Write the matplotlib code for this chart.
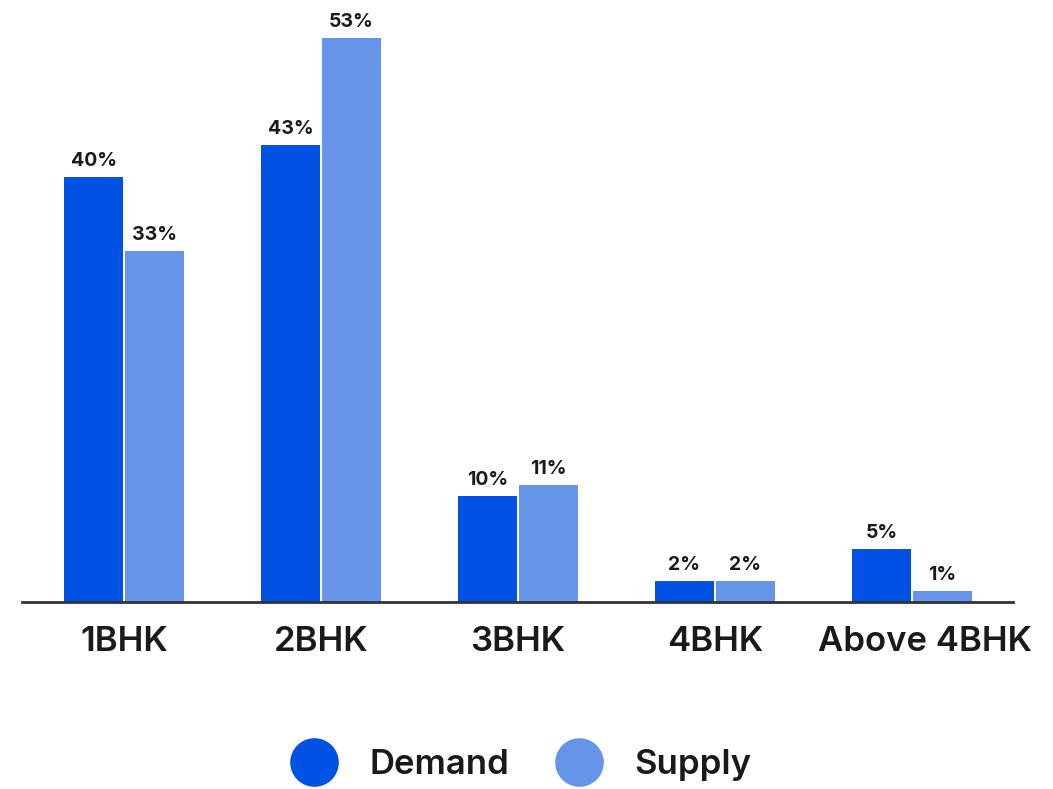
import matplotlib

matplotlib.use("Agg")
import matplotlib.pyplot as plt
import numpy as np
from matplotlib.lines import Line2D
from matplotlib.transforms import ScaledTranslation

plt.rcParams["font.family"] = ["Inter", "DejaVu Sans"]

categories = ["1BHK", "2BHK", "3BHK", "4BHK", "Above 4BHK"]
demand = [40, 43, 10, 2, 5]
supply = [33, 53, 11, 2, 1]

DEMAND_COLOR = "#0052E5"
SUPPLY_COLOR = "#6694E8"
TEXT_COLOR = "#1a1a1a"

fig = plt.figure(figsize=(10.53, 7.89), dpi=100)
ax = fig.add_axes([0.0209, 0.237, 0.941, 0.7414])

x = np.arange(len(categories))
width = 0.30
offset = 0.155

d_bars = ax.bar(x - offset, demand, width, color=DEMAND_COLOR, label="Demand")
s_bars = ax.bar(x + offset, supply, width, color=SUPPLY_COLOR, label="Supply")

for bars in (d_bars, s_bars):
    ax.bar_label(bars, labels=[f"{v}%" for v in bars.datavalues], padding=5,
                 fontsize=14, fontweight="bold", color=TEXT_COLOR)

ax.set_xlim(-0.518, 4.513)
ax.set_ylim(0, 55)
ax.set_xticks(x)
ax.set_xticklabels(categories, fontsize=25, fontweight="semibold", color=TEXT_COLOR)
ax.tick_params(axis="x", length=0, pad=17)
ax.set_yticks([])
for side in ("top", "right", "left"):
    ax.spines[side].set_visible(False)
ax.spines["bottom"].set_color("#333333")
ax.spines["bottom"].set_linewidth(2)

# nudge the long last label right so it sits against the edge
last = ax.get_xticklabels()[-1]
last.set_transform(last.get_transform() + ScaledTranslation(0.13, 0, fig.dpi_scale_trans))

handles = [
    Line2D([], [], linestyle="none", marker="o", markersize=35,
           markerfacecolor=DEMAND_COLOR, markeredgecolor="none"),
    Line2D([], [], linestyle="none", marker="o", markersize=35,
           markerfacecolor=SUPPLY_COLOR, markeredgecolor="none"),
]
leg = fig.legend(handles, ["Demand", "Supply"], loc="center",
                 bbox_to_anchor=(0.496, 1 - 765 / 789), ncol=2, frameon=False,
                 prop={"size": 25, "weight": "semibold"},
                 handletextpad=1.0, columnspacing=1.4, handlelength=1.2)
for t in leg.get_texts():
    t.set_color(TEXT_COLOR)

fig.savefig("out.png", dpi=100)
